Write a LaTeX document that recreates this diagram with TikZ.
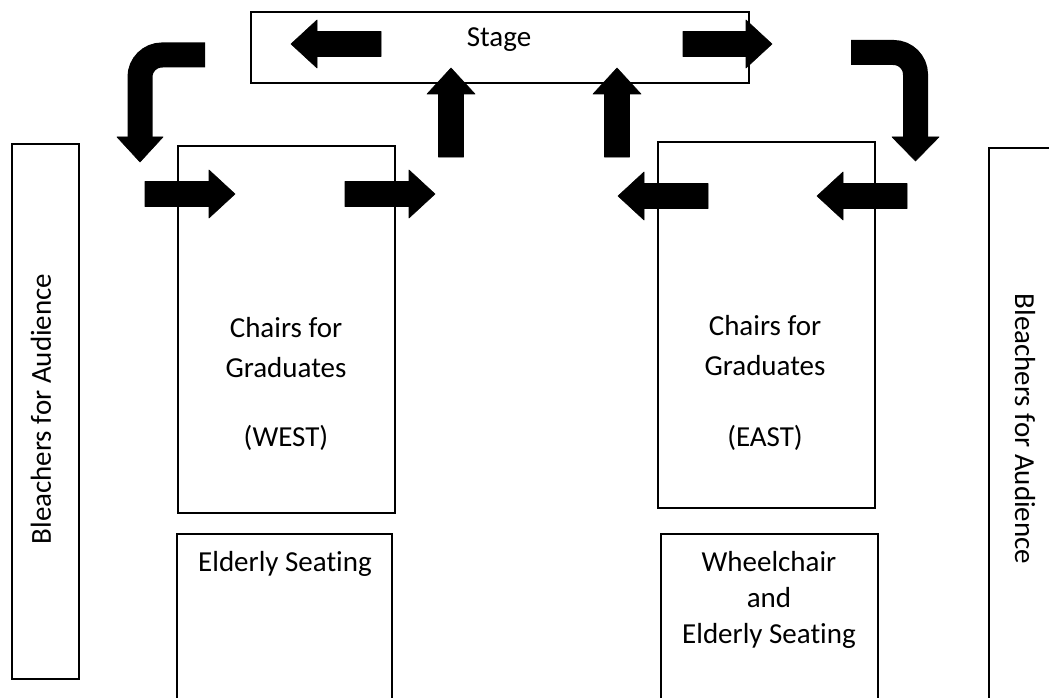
\documentclass[tikz,border=0pt]{standalone}
\usepackage{fontspec}
\setmainfont[Ligatures=NoCommon]{Carlito}
\newcommand{\blockarrow}[3]{%
  \begin{scope}[shift={#1}, rotate=#2]
    \fill[blk] (0,-12.5) -- ({#3-26},-12.5) -- ({#3-26},-24) -- (#3,0) -- ({#3-26},24) -- ({#3-26},12.5) -- (0,12.5) -- cycle;
  \end{scope}}
\begin{document}
\begin{tikzpicture}[x=1pt,y=-1pt,
  box/.style={draw=black, line width=1.8pt, rectangle, inner sep=0pt, anchor=north west},
  openbox/.style={draw=black, line width=1.8pt},
  lbl/.style={font=\fontsize{29}{35}\selectfont, text=black, inner sep=0pt, align=center},
  blk/.style={fill=black, draw=black, line width=0.6pt, line join=round},
  bentbar/.style={draw=black, line width=25pt, rounded corners=22pt}]
\useasboundingbox (0,0) rectangle (1049,698);
\fill[white] (0,0) rectangle (1049,698);

% boxes
\node[box, minimum width=498pt, minimum height=71pt] (stage) at (250,11) {};
\node[box, minimum width=67pt, minimum height=535pt] (bleachL) at (11,143) {};
\node[box, minimum width=217pt, minimum height=367pt] (west) at (177,145) {};
\node[box, minimum width=217pt, minimum height=366pt] (east) at (657,141) {};
\coordinate (elderW) at (177,534);
\draw[openbox] (177,699) -- (elderW) -- (392,534) -- (392,699);
\coordinate (wheel) at (661,534);
\draw[openbox] (661,699) -- (wheel) -- (878,534) -- (878,699);
\coordinate (bleachR) at (989,148);
\draw[openbox] (989,699) -- (bleachR) -- (1050,148);

% texts
\node[lbl] (tstage) at (499,40) {Stage};
\node[lbl] (tw1) at (286,328) {Chairs for};
\node[lbl] (tw2) at (286,368) {Graduates};
\node[lbl] (tw3) at (286,438) {(WEST)};
\node[lbl] (te1) at (765,326) {Chairs for};
\node[lbl] (te2) at (765,366) {Graduates};
\node[lbl] (te3) at (765,438) {(EAST)};
\node[lbl, anchor=base] (tel) at (285,571) {Elderly Seating};
\node[lbl, anchor=base] (twh1) at (769,571) {Wheelchair};
\node[lbl, anchor=base] (twh2) at (769,607) {and};
\node[lbl, anchor=base] (twh3) at (769,643) {Elderly Seating};
\node[lbl, rotate=90] (tbl) at (41,409) {Bleachers for Audience};
\node[lbl, rotate=-90] (tbr) at (1025,429) {Bleachers for Audience};

% straight block arrows
\blockarrow{(381,44)}{180}{90}
\blockarrow{(683,44)}{0}{89}
\blockarrow{(451,157)}{90}{89}
\blockarrow{(617,157)}{90}{89}
\blockarrow{(145,194)}{0}{90}
\blockarrow{(345,194)}{0}{90}
\blockarrow{(708,196)}{180}{90}
\blockarrow{(907,196)}{180}{90}

% bent arrows
\coordinate (bl0) at (205,55);
\coordinate (bl1) at (140,138);
\draw[bentbar] (bl0) -| (bl1);
\fill[blk] (117,137) -- (163,137) -- (140,162) -- cycle;
\coordinate (br0) at (851,52.5);
\coordinate (br1) at (915.5,138);
\draw[bentbar] (br0) -| (br1);
\fill[blk] (892,137) -- (939,137) -- (915.5,161) -- cycle;
\end{tikzpicture}
\end{document}
